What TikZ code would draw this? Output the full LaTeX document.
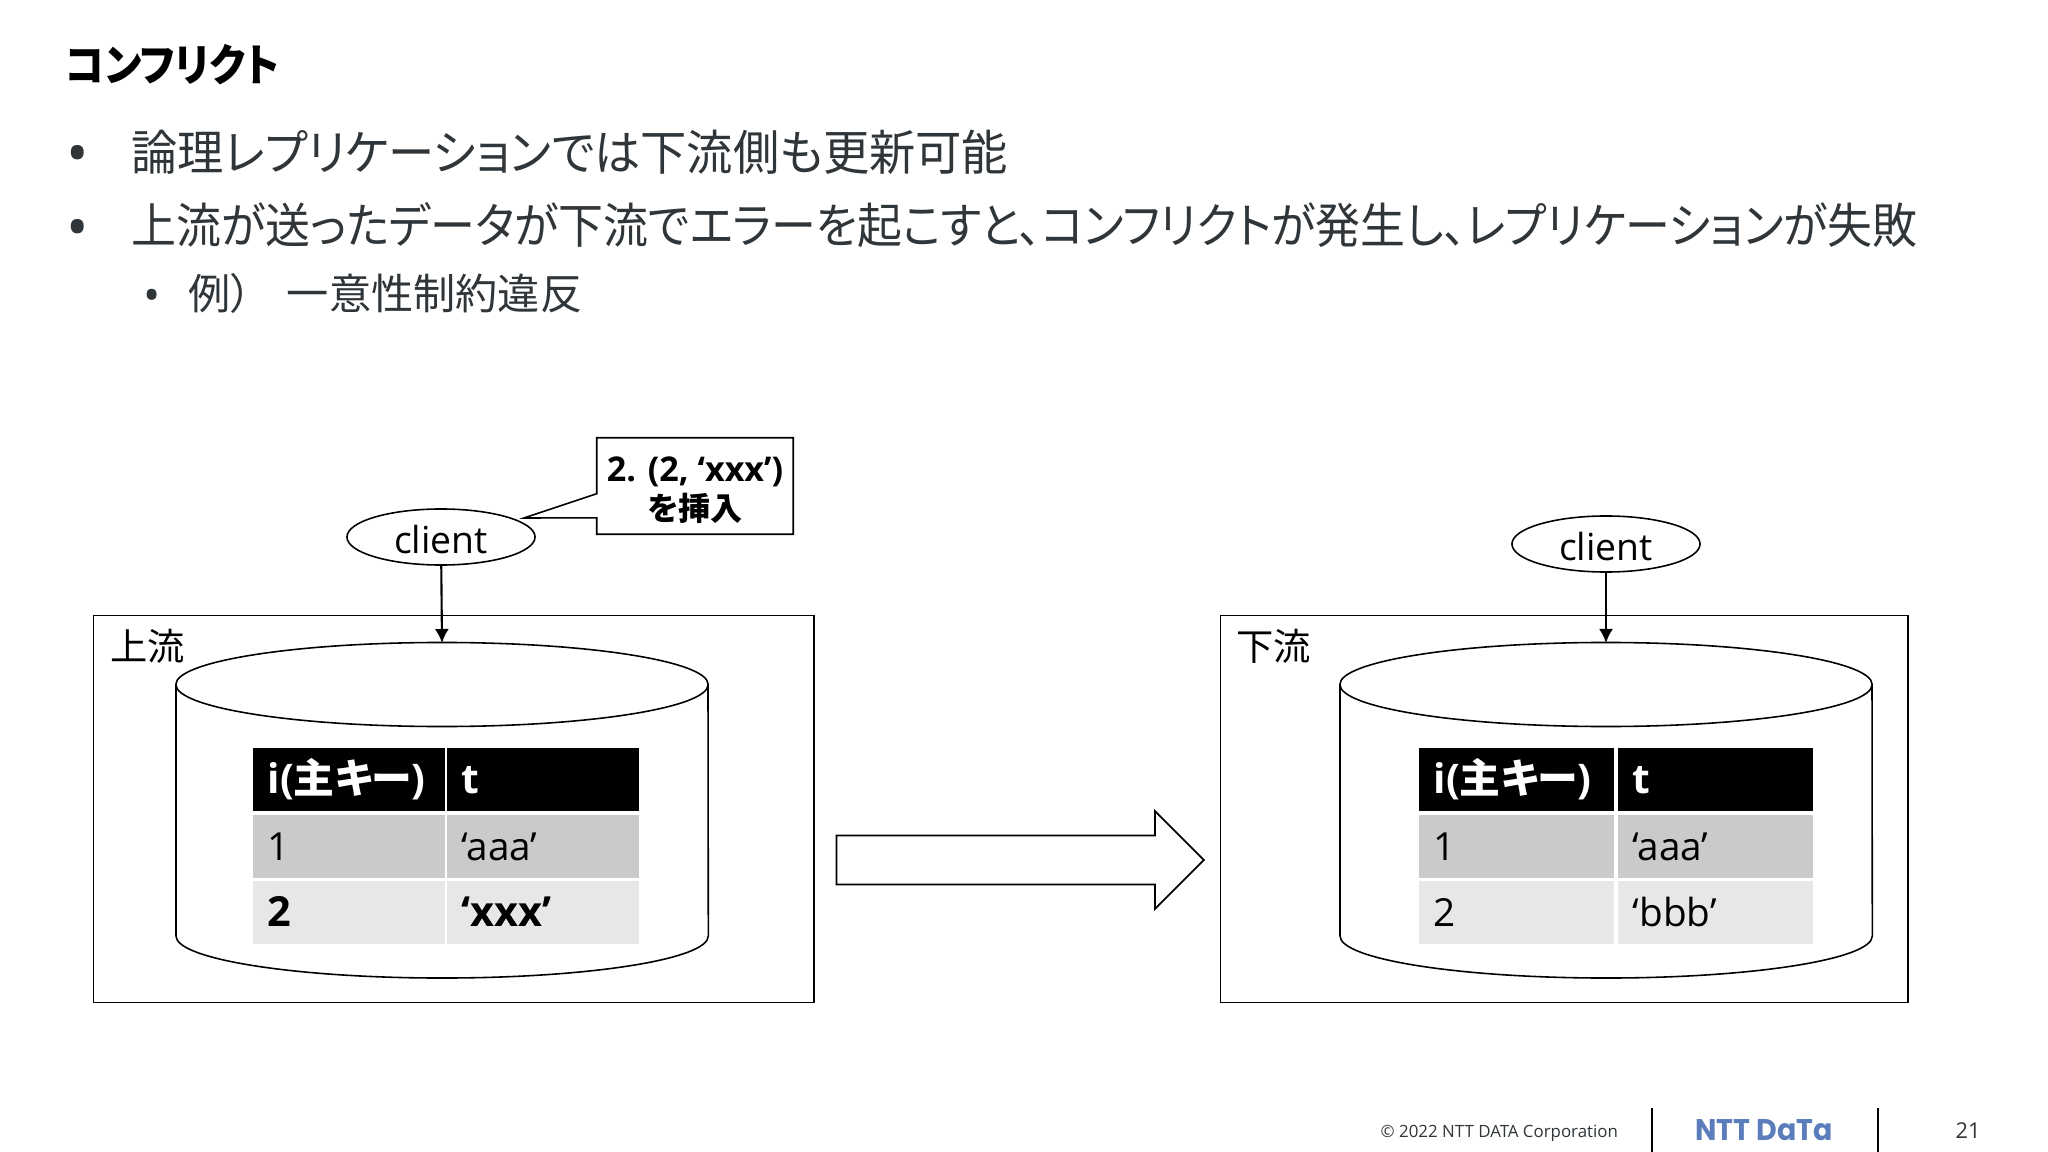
\documentclass[tikz,border=0pt]{standalone}
\usepackage{graphicx}
\usepackage{fontspec}
\setmainfont{Open Sans}
\newfontfamily\cjk[RawFeature=+palt]{Noto Sans CJK JP}
\newfontfamily\logofont{Poppins}
\usepackage{tikz}
\usetikzlibrary{arrows.meta}
\usetikzlibrary{calc}
\usetikzlibrary{shapes.geometric}
\usetikzlibrary{shapes.arrows}
\definecolor{bodyink}{HTML}{2F3538}
\definecolor{rowdark}{HTML}{C9CACC}
\definecolor{rowlight}{HTML}{E6E7E9}
\definecolor{logoblue}{HTML}{5B7DBB}
\newcommand{\fitline}[2]{\resizebox{#1}{\height}{#2}}
\tikzset{
  bodyline/.style={anchor=west,inner sep=0pt,text=bodyink,font=\cjk\fontsize{13.7pt}{16pt}\selectfont},
  subline/.style={anchor=west,inner sep=0pt,text=bodyink,font=\cjk\fontsize{12pt}{14pt}\selectfont},
  bigdot/.style={text=bodyink,inner sep=0pt,font=\fontsize{17pt}{19pt}\selectfont},
  hostbox/.style={draw,line width=0.35pt,anchor=north west,minimum height=3.87cm},
  dbline/.style={line width=0.45pt},
  clientnode/.style={draw,line width=0.45pt,ellipse,minimum width=1.88cm,minimum height=0.56cm,inner sep=0pt,text height=0.33cm,font=\fontsize{10.6pt}{12pt}\selectfont},
  cellbox/.style={anchor=north west,inner xsep=0.15cm,inner ysep=0pt,minimum height=0.63cm,text width=#1,align=left,text height=0.35cm,text depth=0.07cm,font=\fontsize{11pt}{13pt}\selectfont},
  headcell/.style={cellbox=#1,fill=black,text=white,font=\bfseries\fontsize{11.6pt}{13pt}\selectfont},
  darkcell/.style={cellbox=#1,fill=rowdark},
  lightcell/.style={cellbox=#1,fill=rowlight},
  boldcell/.style={lightcell=#1,font=\bfseries\fontsize{11.8pt}{13pt}\selectfont},
  footline/.style={line width=0.5pt}
}
\begin{document}
\begin{tikzpicture}[x=0.01cm,y=-0.01cm]
\useasboundingbox (0,0) rectangle (2048,1152);
\node (title) [anchor=west,inner sep=0pt,font=\cjk\bfseries\fontsize{12.6pt}{15pt}\selectfont] at (65,65) {\fitline{2.13cm}{コンフリクト}};
\node (dot1) [bigdot] at (78,160) {•};
\node (line1) [bodyline] at (131,152) {\fitline{8.76cm}{論理レプリケーションでは下流側も更新可能}};
\node (dot2) [bigdot] at (78,234) {•};
\node (line2) [bodyline] at (131,225) {\fitline{17.85cm}{上流が送ったデータが下流でエラーを起こすと、コンフリクトが発生し、レプリケーションが失敗}};
\node (dot3) [text=bodyink,inner sep=0pt,font=\fontsize{13pt}{15pt}\selectfont] at (152,300) {•};
\node (line3) [subline] at (188,293) {例）\hspace{0.35cm}一意性制約違反};
% upstream side
\node (boxA) [hostbox,minimum width=7.20cm] at (93,615) {};
\node (labelA) [anchor=west,inner sep=0pt,font=\cjk\fontsize{10.6pt}{12pt}\selectfont] at (110,646) {上流};
\coordinate (dbA) at (442,643);
\draw[dbline] (442,684.5) ellipse [x radius=2.66cm,y radius=0.42cm];
\draw[dbline] (176,684.5) -- (176,936) arc [start angle=180,end angle=360,x radius=2.66cm,y radius=0.42cm] -- (708,684.5);
\node (clientA) [clientnode] at (441,537) {client};
\node (noteA) [inner sep=0pt,minimum width=1.95cm,minimum height=0.95cm] at (695,486) {};
\node (noteTextA) [align=center,inner sep=0pt,font=\bfseries\fontsize{9.7pt}{11pt}\selectfont] at (695,490) {2. (2, ‘xxx’)\\{\cjk\fontsize{9.1pt}{11pt}\selectfont を挿入}};
\coordinate (tipA) at (524,518);
\draw[line width=0.45pt] (noteA.north west) -- (noteA.north east) -- (noteA.south east) -- (noteA.south west)
  -- ($(noteA.south west)!0.17!(noteA.north west)$) -- (tipA) -- ($(noteA.south west)!0.42!(noteA.north west)$) -- cycle;
\draw[-{Latex[length=1.4mm,width=1.4mm]},line width=0.6pt] (clientA) -- (dbA);
\node (headA1) [headcell=1.62cm] at (252,747) {i({\cjk 主キー})};
\node (headA2) [headcell=1.62cm] at (446,747) {t};
\node (rowA11) [darkcell=1.62cm] at (252,814) {1};
\node (rowA12) [darkcell=1.62cm] at (446,814) {‘aaa’};
\node (rowA21) [boldcell=1.62cm] at (252,880) {2};
\node (rowA22) [boldcell=1.62cm] at (446,880) {‘xxx’};
% replication arrow
\node (flow) [draw,line width=0.5pt,single arrow,single arrow head extend=0.245cm,minimum height=3.67cm,minimum width=0.96cm,inner xsep=0pt,inner ysep=0.235cm] at (1008,860) {};
% downstream side
\node (boxB) [hostbox,minimum width=6.87cm] at (1220,615) {};
\node (labelB) [anchor=west,inner sep=0pt,font=\cjk\fontsize{10.6pt}{12pt}\selectfont] at (1236,646) {下流};
\coordinate (dbB) at (1606,643);
\draw[dbline] (1606,684.5) ellipse [x radius=2.66cm,y radius=0.42cm];
\draw[dbline] (1340,684.5) -- (1340,936) arc [start angle=180,end angle=360,x radius=2.66cm,y radius=0.42cm] -- (1872,684.5);
\node (clientB) [clientnode] at (1606,544) {client};
\draw[-{Latex[length=1.4mm,width=1.4mm]},line width=0.6pt] (clientB) -- (dbB);
\node (headB1) [headcell=1.65cm] at (1418,747) {i({\cjk 主キー})};
\node (headB2) [headcell=1.65cm] at (1617,747) {t};
\node (rowB11) [darkcell=1.65cm] at (1418,814) {1};
\node (rowB12) [darkcell=1.65cm] at (1617,814) {‘aaa’};
\node (rowB21) [lightcell=1.65cm] at (1418,880) {2};
\node (rowB22) [lightcell=1.65cm] at (1617,880) {‘bbb’};
% footer
\node (copyright) [anchor=west,inner sep=0pt,text=bodyink,font=\fontsize{4.8pt}{6pt}\selectfont] at (1380,1133) {© 2022 NTT DATA Corporation};
\coordinate (sepA) at (1652,1108);
\coordinate (sepB) at (1878,1108);
\draw[footline] (sepA) -- (sepA |- 0,1152);
\draw[footline] (sepB) -- (sepB |- 0,1152);
\node (logo) [inner sep=0pt,text=logoblue,font=\logofont\bfseries\fontsize{8.5pt}{10pt}\selectfont] at (1764,1130) {\fitline{1.37cm}{NTT DaTa}};
\node (page) [anchor=west,inner sep=0pt,text=bodyink,font=\fontsize{6.2pt}{8pt}\selectfont] at (1955,1131) {21};
\end{tikzpicture}
\end{document}
